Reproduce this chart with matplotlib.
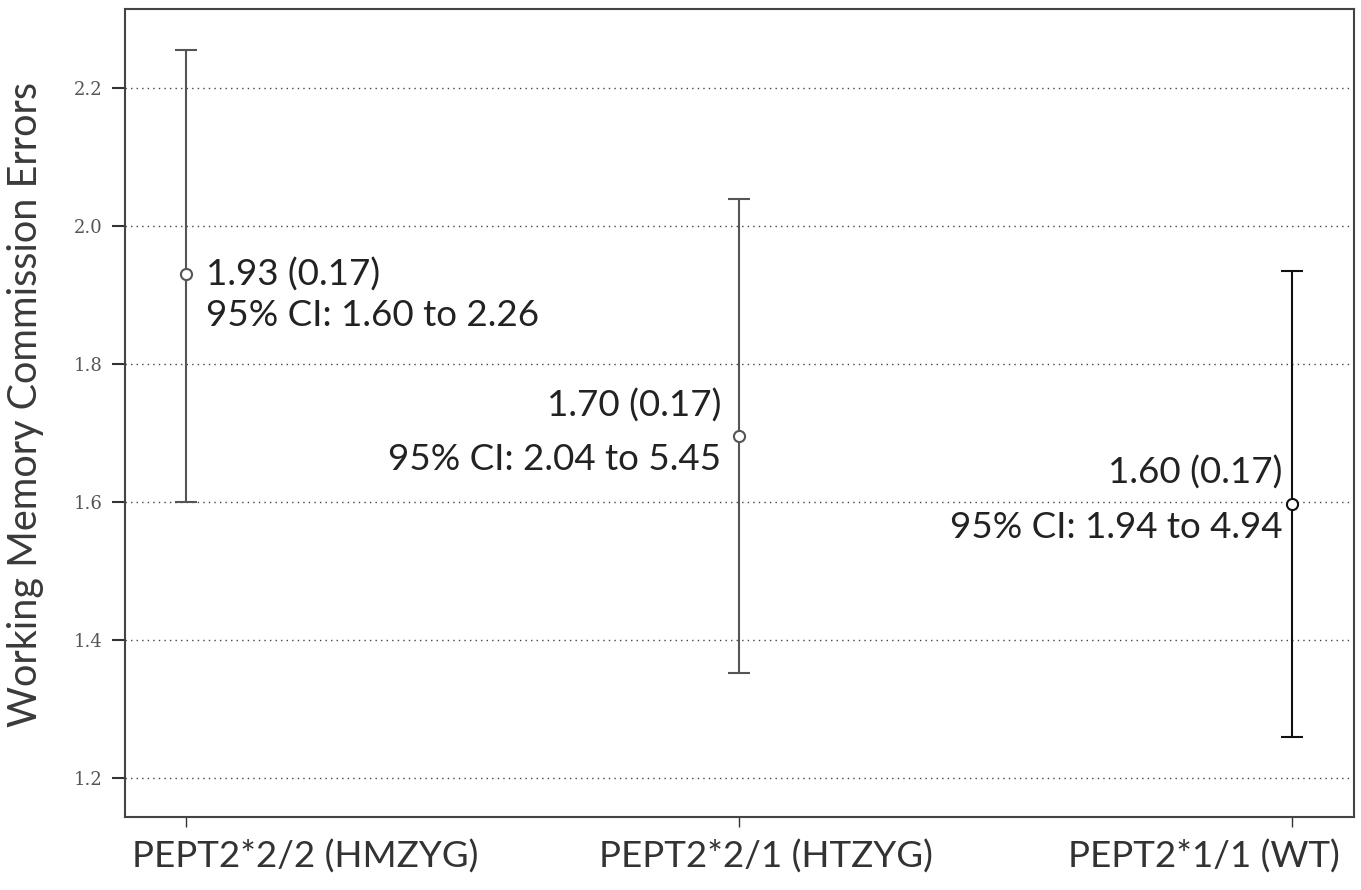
import matplotlib
matplotlib.use("Agg")
import matplotlib.pyplot as plt
import matplotlib.transforms as mtransforms

categories = ["PEPT2*2/2 (HMZYG)", "PEPT2*2/1 (HTZYG)", "PEPT2*1/1 (WT)"]
means = [1.93, 1.695, 1.597]
ci_low = [1.60, 1.352, 1.259]
ci_high = [2.255, 2.039, 1.935]
line1 = ["1.93 (0.17)", "1.70 (0.17)", "1.60 (0.17)"]
line2 = ["95% CI: 1.60 to 2.26", "95% CI: 2.04 to 5.45", "95% CI: 1.94 to 4.94"]
yticks = [1.2, 1.4, 1.6, 1.8, 2.0, 2.2]

bar_colors = ["#555555", "#555555", "#111111"]
sans = ["Lato", "DejaVu Sans"]

fig = plt.figure(figsize=(13.61, 8.90), dpi=100)
ax = fig.add_axes([125/1361, 1 - 817/890, (1354-125)/1361, (817-9)/890])

x = list(range(len(categories)))
for i in x:
    ax.errorbar([i], [means[i]],
                yerr=[[means[i] - ci_low[i]], [ci_high[i] - means[i]]],
                fmt='o', mfc='white', mec=bar_colors[i], ms=8, mew=1.5,
                ecolor=bar_colors[i], elinewidth=1.5, capsize=8, capthick=1.5, zorder=3)

ax.set_xlim(-0.11, 2.112)
ax.set_ylim(1.1435, 2.3145)
ax.set_yticks(yticks)
ax.set_yticklabels([f"{v:.1f}" for v in yticks], fontfamily="DejaVu Serif", fontsize=13, color="#555555")
ax.set_xticks(x)
ax.set_xticklabels(categories, fontfamily=sans, fontsize=26.5, color="#333333")
ax.tick_params(axis='y', direction='out', length=9.5, width=1.5, color="#333333", pad=6.5)
ax.tick_params(axis='x', direction='out', length=7, width=1, color="#333333", pad=9)
ax.yaxis.grid(True, linestyle=(0, (1, 3)), color="#444444", linewidth=1)
ax.set_axisbelow(True)
for s in ax.spines.values():
    s.set_color("#444444")
    s.set_linewidth(1.5)

# x tick label placement (px offsets from tick, alignment)
label_place = [(-54, 'left'), (27, 'center'), (48, 'right')]
for lbl, (dxp, ha) in zip(ax.get_xticklabels(), label_place):
    lbl.set_ha(ha)
    lbl.set_transform(lbl.get_transform() + mtransforms.ScaledTranslation(dxp/100, 0, fig.dpi_scale_trans))

ax.set_ylabel("Working Memory Commission Errors", fontfamily=sans, fontsize=28.5, color="#3a3a3a")
ax.yaxis.set_label_coords(-0.066, 0.51)

# annotation offsets in points: (dx, dy line1 baseline, dy line2 baseline, ha)
ann = [(14.4, -8, -37, 'left'), (-13, 14.4, -23.8, 'right'), (-7, 14.4, -24.5, 'right')]
for i in x:
    dx, d1, d2, ha = ann[i]
    ax.annotate(line1[i], (i, means[i]), xytext=(dx, d1), textcoords='offset points',
                ha=ha, va='baseline', fontfamily=sans, fontsize=26.5, color="#222222")
    ax.annotate(line2[i], (i, means[i]), xytext=(dx, d2), textcoords='offset points',
                ha=ha, va='baseline', fontfamily=sans, fontsize=26.5, color="#222222")

fig.savefig("out.png", dpi=100)
